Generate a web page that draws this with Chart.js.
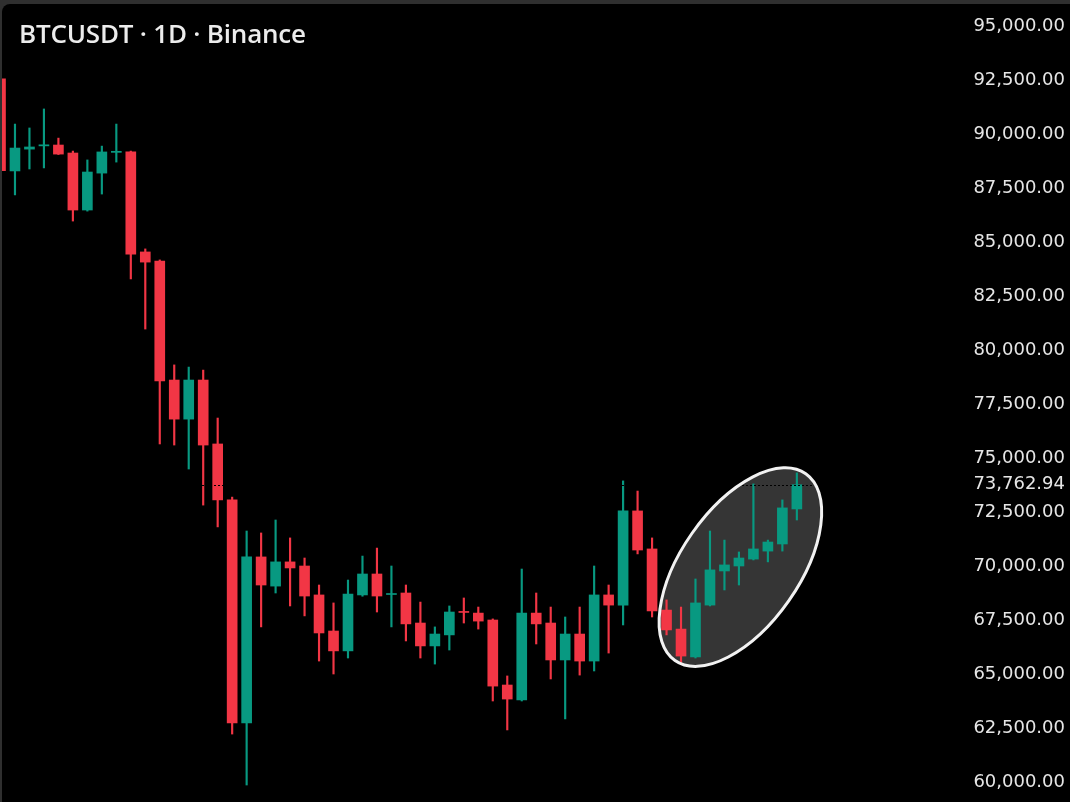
<!DOCTYPE html>
<html>
<head>
<meta charset="utf-8">
<script src="https://cdn.jsdelivr.net/npm/chart.js@4/dist/chart.umd.min.js"></script>
<style>
  html, body { margin: 0; padding: 0; background: #2f2f2f; width: 1070px; height: 802px; overflow: hidden; }
  #frame { position: absolute; left: 2px; top: 4px; width: 1068px; height: 798px; background: #000; border-top-left-radius: 8px; overflow: hidden; }
  #title { position: absolute; left: 17px; top: 11px; color: #ececec; font: 600 26px "Open Sans", sans-serif; letter-spacing: -0.2px; z-index: 2; }
  #chart { position: absolute; left: 0; top: 0; }
</style>
</head>
<body>
<div id="frame">
  <div id="title">BTCUSDT · 1D · Binance</div>
  <canvas id="chart" width="1068" height="798"></canvas>
</div>
<script>
// Daily candles, oldest first
const opens  = [92550, 88290, 89300, 89450, 89490, 89120, 86480, 88190, 89150, 89170,
                84540, 84120, 78610, 76800, 78610, 75650, 73060, 62730, 70420, 69070,
                70190, 70000, 68660, 66990, 66070, 68660, 69630, 68680, 68750, 67360,
                66300, 66810, 67890, 67820, 67500, 64490, 63800, 67820, 67360, 65650,
                66850, 65600, 68660, 68190, 72550, 70790, 67960, 67080, 65790, 68190,
                69770, 70000, 70320, 70690, 71020, 72640];
const highs  = [92600, 90460, 90280, 91160, 89810, 89210, 88800, 89440, 90460, 89210,
                84680, 84170, 79310, 79210, 79070, 76850, 73190, 71620, 71530, 72130,
                71300, 70370, 69120, 68290, 69350, 70460, 70830, 70000, 69120, 68330,
                67180, 68150, 68520, 68100, 67550, 64910, 69860, 68750, 68100, 67640,
                68100, 70000, 69120, 73940, 73470, 71300, 68430, 68100, 69400, 71620,
                71200, 70650, 73800, 71200, 73060, 74310];
const lows   = [88250, 87180, 88380, 88430, 89050, 85970, 86430, 87220, 88700, 83290,
                80970, 75650, 75600, 74490, 72820, 71810, 62220, 59860, 67180, 68750,
                68150, 67690, 65600, 65000, 65740, 68600, 67870, 67180, 66530, 65740,
                65460, 66110, 67360, 67080, 63750, 62410, 63750, 66390, 64770, 62920,
                64950, 65140, 65970, 67270, 70560, 67640, 66810, 65460, 65740, 68150,
                68890, 69120, 70280, 70190, 70690, 72130];
const closes = [88300, 89350, 89400, 89500, 89070, 86480, 88240, 89170, 89200, 84440,
                84070, 78570, 76800, 78610, 75600, 73060, 62730, 70420, 69120, 70190,
                69910, 68610, 66900, 66070, 68700, 69630, 68610, 68720, 67320, 66300,
                66850, 67870, 67850, 67450, 64440, 63840, 67820, 67320, 65650, 66850,
                65600, 68660, 68190, 72550, 70740, 67920, 67040, 65830, 68290, 69820,
                70050, 70370, 70790, 71110, 72690, 73762.94];

const priceTicks = [60000, 62500, 65000, 67500, 70000, 72500, 75000, 77500,
                    80000, 82500, 85000, 87500, 90000, 92500, 95000];
const lastPrice = 73762.94;

const upColor = '#089981';
const downColor = '#f23645';

const candleColors = opens.map((o, i) => closes[i] >= o ? upColor : downColor);
const bodies = opens.map((o, i) => ({ x: i, y: [o, closes[i]] }));
const wicks = opens.map((o, i) => ({ x: i, y: [lows[i], highs[i]] }));

const fmt = v => v.toLocaleString('en-US', { minimumFractionDigits: 2, maximumFractionDigits: 2 });

// highlight ellipse around the recent rebound, anchored on data values
function ellipsePath(chart) {
    const { ctx, scales: { x, y } } = chart;
    ctx.beginPath();
    ctx.ellipse(x.getPixelForValue(51.1), y.getPixelForValue(69950), 114, 59, -55 * Math.PI / 180, 0, Math.PI * 2);
}

const highlight = {
    id: 'highlight',
    beforeDatasetsDraw(chart) {
        const ctx = chart.ctx;
        ctx.save();
        ellipsePath(chart);
        ctx.fillStyle = '#353535';
        ctx.fill();
        ctx.restore();
    },
    afterDatasetsDraw(chart) {
        const { ctx, chartArea, scales: { y } } = chart;
        ctx.save();
        // last price line (dark dots)
        const py = Math.round(y.getPixelForValue(lastPrice)) + 0.5;
        ctx.setLineDash([2, 2]);
        ctx.strokeStyle = '#000';
        ctx.lineWidth = 1;
        ctx.beginPath();
        ctx.moveTo(chartArea.left, py);
        ctx.lineTo(chartArea.right, py);
        ctx.stroke();
        ctx.setLineDash([]);
        ellipsePath(chart);
        ctx.strokeStyle = '#f2f2f2';
        ctx.lineWidth = 3;
        ctx.stroke();
        ctx.restore();
    }
};

new Chart(document.getElementById('chart'), {
    type: 'bar',
    data: {
        datasets: [
            {
                label: 'body',
                data: bodies,
                backgroundColor: candleColors,
                barThickness: 10,
                minBarLength: 1,
                grouped: false
            },
            {
                label: 'wick',
                data: wicks,
                backgroundColor: candleColors,
                barThickness: 1.5,
                grouped: false
            }
        ]
    },
    options: {
        responsive: false,
        animation: false,
        layout: { padding: { left: 0, right: 5, top: 0, bottom: 0 } },
        plugins: { legend: { display: false }, tooltip: { enabled: false } },
        scales: {
            x: {
                type: 'linear',
                min: 0.104,
                max: 65.37,
                display: false,
                offset: false
            },
            y: {
                position: 'right',
                min: 59074,
                max: 96019,
                grid: { display: false },
                border: { display: false },
                afterBuildTicks: s => {
                    s.ticks = priceTicks.concat([lastPrice]).map(v => ({ value: v }));
                },
                afterFit: s => {
                    s.width = 118;
                    s.paddingTop = 0;
                    s.paddingBottom = 0;
                },
                ticks: {
                    color: '#e6e6e6',
                    font: { family: 'DejaVu Sans', size: 18 },
                    crossAlign: 'far',
                    padding: 0,
                    autoSkip: false,
                    callback: v => fmt(v)
                }
            }
        }
    },
    plugins: [highlight]
});
</script>
</body>
</html>
